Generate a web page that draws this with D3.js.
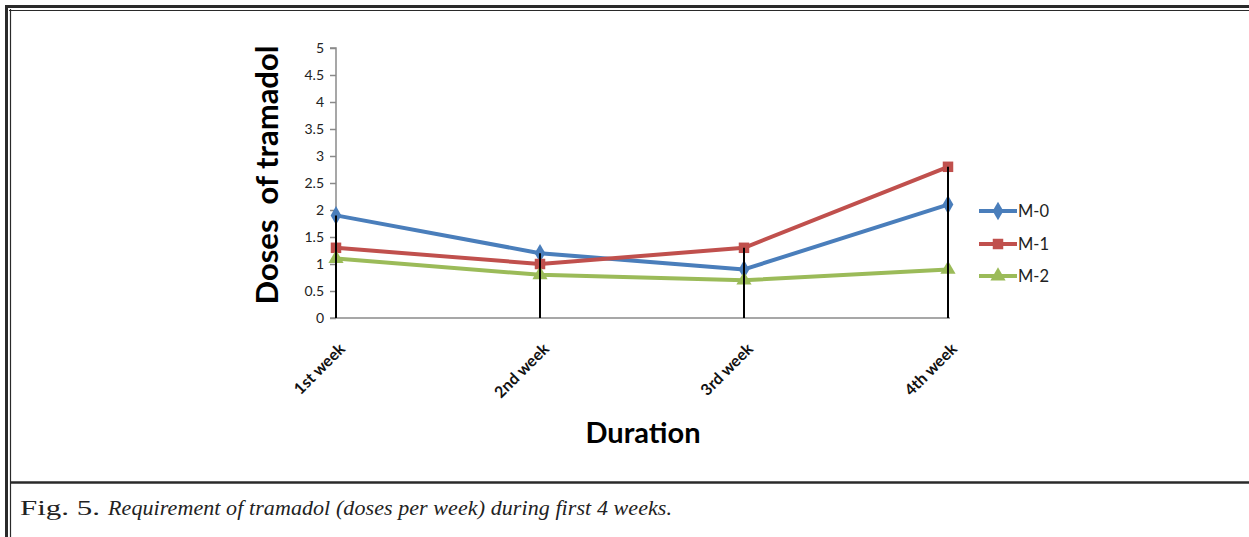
<!DOCTYPE html>
<html>
<head>
<meta charset="utf-8">
<script src="https://cdn.jsdelivr.net/npm/d3@7"></script>
<style>
  body { margin: 0; background: #fff; }
  svg { display: block; }
  .tick text { font-family: Lato, "Open Sans", sans-serif; }
</style>
</head>
<body>
<svg id="chart" width="1249" height="537"></svg>
<script>
// data
var weeks = ["1st week", "2nd week", "3rd week", "4th week"];
var m0 = [1.9, 1.2, 0.9, 2.1];
var m1 = [1.3, 1.0, 1.3, 2.8];
var m2 = [1.1, 0.8, 0.7, 0.9];
var seriesNames = ["M-0", "M-1", "M-2"];
var yTicks = [0, 0.5, 1, 1.5, 2, 2.5, 3, 3.5, 4, 4.5, 5];

var colors = ["#4a7ebb", "#c0504d", "#9bbb59"];
var symbols = [d3.symbolDiamond, d3.symbolSquare, d3.symbolTriangle];
var series = [m0, m1, m2];

var svg = d3.select("#chart");

// frame (double rules like the journal page)
svg.append("line").attr("x1", 5).attr("x2", 1249).attr("y1", 6.5).attr("y2", 6.5)
  .attr("stroke", "#2a2a2a").attr("stroke-width", 3);
svg.append("line").attr("x1", 9).attr("x2", 1249).attr("y1", 10.5).attr("y2", 10.5)
  .attr("stroke", "#2a2a2a").attr("stroke-width", 1.2);
svg.append("line").attr("x1", 6.5).attr("x2", 6.5).attr("y1", 5).attr("y2", 537)
  .attr("stroke", "#2a2a2a").attr("stroke-width", 3);
svg.append("line").attr("x1", 10.5).attr("x2", 10.5).attr("y1", 9).attr("y2", 537)
  .attr("stroke", "#2a2a2a").attr("stroke-width", 1.2);
svg.append("line").attr("x1", 10).attr("x2", 1249).attr("y1", 482.5).attr("y2", 482.5)
  .attr("stroke", "#2a2a2a").attr("stroke-width", 2.5);

// caption
var cap = svg.append("text")
  .attr("y", 515)
  .style("font-family", "'Liberation Serif', 'DejaVu Serif', serif")
  .style("font-size", "22px")
  .attr("fill", "#222");
cap.append("tspan").attr("x", 20).attr("textLength", 80).attr("lengthAdjust", "spacingAndGlyphs")
  .text("Fig. 5.");
cap.append("tspan").attr("x", 108).attr("textLength", 564).attr("lengthAdjust", "spacing")
  .style("font-style", "italic")
  .text("Requirement of  tramadol (doses per week) during first 4 weeks.");

// scales
var x = d3.scalePoint().domain(weeks).range([336, 948]);
var y = d3.scaleLinear().domain([0, 5]).range([318, 48]);

// y axis
var yAxis = svg.append("g")
  .attr("transform", "translate(336,0)")
  .call(d3.axisLeft(y).tickValues(yTicks).tickSize(6).tickPadding(6)
    .tickFormat(function (d) { return String(d); }));
yAxis.selectAll("path, line").attr("stroke", "#8a8a8a").attr("stroke-width", 1.5);
yAxis.select(".domain").attr("d", "M-6,48H0V318");
yAxis.selectAll("text").style("font-size", "14px").attr("fill", "#222");

// x axis line
svg.append("line").attr("x1", 330).attr("x2", 950).attr("y1", 318).attr("y2", 318)
  .attr("stroke", "#8a8a8a").attr("stroke-width", 1.5);

// x tick labels, rotated
svg.append("g").selectAll("text")
  .data(weeks)
  .enter().append("text")
  .attr("transform", function (d) { return "translate(" + (x(d) + 10) + ",350) rotate(-45)"; })
  .attr("text-anchor", "end")
  .style("font-family", "Lato, 'Open Sans', sans-serif")
  .style("font-weight", "bold")
  .style("font-size", "16px")
  .attr("fill", "#111")
  .text(function (d) { return d; });

// lines + markers
var line = d3.line()
  .x(function (d, i) { return x(weeks[i]); })
  .y(function (d) { return y(d); });

series.forEach(function (s, k) {
  svg.append("path")
    .datum(s)
    .attr("fill", "none")
    .attr("stroke", colors[k])
    .attr("stroke-width", 4)
    .attr("stroke-linejoin", "round")
    .attr("d", line);
});
series.forEach(function (s, k) {
  svg.append("g").selectAll("path")
    .data(s)
    .enter().append("path")
    .attr("transform", function (d, i) { return "translate(" + x(weeks[i]) + "," + y(d) + ")"; })
    .attr("d", d3.symbol().type(symbols[k]).size(k === 1 ? 110 : 100))
    .attr("fill", colors[k]);
});

// drop lines from highest point of each category, over the markers
svg.append("g").selectAll("line")
  .data(weeks)
  .enter().append("line")
  .attr("x1", function (d) { return x(d); })
  .attr("x2", function (d) { return x(d); })
  .attr("y1", function (d, i) { return y(d3.max(series, function (s) { return s[i]; })); })
  .attr("y2", y(0))
  .attr("stroke", "#000").attr("stroke-width", 2);

// axis titles
svg.append("text")
  .attr("transform", "translate(278,175) rotate(-90)")
  .attr("text-anchor", "middle")
  .attr("xml:space", "preserve")
  .style("white-space", "pre")
  .style("font-family", "Lato, 'Open Sans', sans-serif")
  .style("font-weight", "bold")
  .style("font-size", "31px")
  .attr("fill", "#000")
  .text("Doses  of tramadol");

svg.append("text")
  .attr("x", 643).attr("y", 443)
  .attr("text-anchor", "middle")
  .style("font-family", "Lato, 'Open Sans', sans-serif")
  .style("font-weight", "bold")
  .style("font-size", "29px")
  .attr("fill", "#000")
  .text("Duration");

// legend
var legendY = [211, 244, 276];
var legend = svg.append("g").selectAll("g")
  .data(seriesNames)
  .enter().append("g")
  .attr("transform", function (d, i) { return "translate(979," + legendY[i] + ")"; });
legend.append("line").attr("x1", 0).attr("x2", 38).attr("y1", 0).attr("y2", 0)
  .attr("stroke", function (d, i) { return colors[i]; }).attr("stroke-width", 4);
legend.append("path")
  .attr("transform", "translate(19,0)")
  .attr("d", function (d, i) { return d3.symbol().type(symbols[i]).size(i === 1 ? 110 : 100)(); })
  .attr("fill", function (d, i) { return colors[i]; });
legend.append("text")
  .attr("x", 39).attr("y", 6)
  .style("font-family", "Lato, 'Open Sans', sans-serif")
  .style("font-size", "16.5px")
  .attr("fill", "#222")
  .text(function (d) { return d; });
</script>
</body>
</html>
